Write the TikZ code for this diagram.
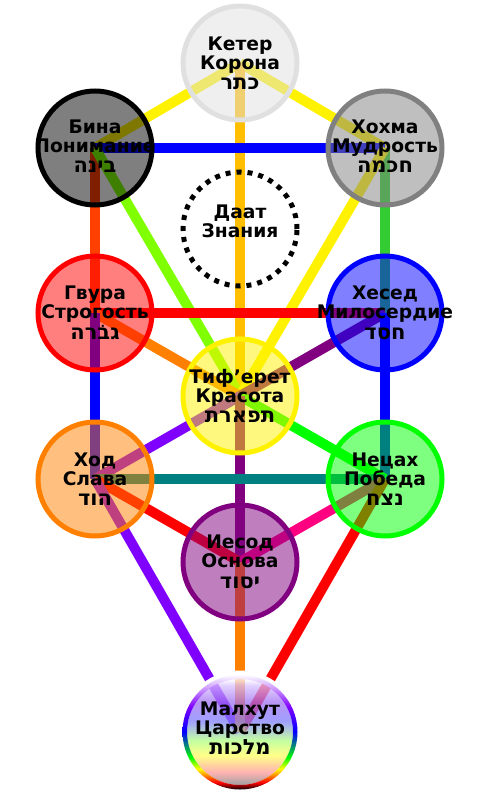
\documentclass[tikz,border=0pt]{standalone}
\usepackage{fontspec}
\setmainfont{DejaVu Sans}
\newfontfamily\hebfont[Script=Hebrew]{DejaVu Sans}
\TeXXeTstate=1
\usetikzlibrary{backgrounds}

\newcommand\hebname[1]{{\hebfont\fontsize{21bp}{19bp}\selectfont\beginR #1\endR}}

\definecolor{kgray}{HTML}{E0E0E0}
\definecolor{cgray}{HTML}{808080}
\definecolor{amber}{HTML}{FFBF00}
\definecolor{vermilion}{HTML}{FF4000}
\definecolor{chartreuse}{HTML}{80FF00}
\definecolor{leaf}{HTML}{33CC33}
\definecolor{orangeline}{HTML}{FF8000}
\definecolor{plum}{HTML}{800080}
\definecolor{violetline}{HTML}{8000FF}
\definecolor{neon}{HTML}{00FF00}
\definecolor{tealline}{HTML}{008080}
\definecolor{rose}{HTML}{FF0080}
\definecolor{malgray}{HTML}{808080}
\definecolor{malpink}{HTML}{FF9898}
\definecolor{malyellow}{HTML}{FFFF60}
\definecolor{malgreen}{HTML}{B0FF80}
\definecolor{malblue}{HTML}{8080FF}
\definecolor{malpurple}{HTML}{A070F0}
\definecolor{mallavender}{HTML}{D8C0FF}

\pgfdeclareverticalshading{malkhutring}{100bp}{color(0bp)=(black); color(25bp)=(black);
  color(28bp)=(red); color(31bp)=(orangeline); color(34bp)=(yellow); color(39bp)=(neon);
  color(50bp)=(blue); color(61bp)=(violetline); color(69bp)=(violetline!40);
  color(75bp)=(white); color(100bp)=(white)}
\pgfdeclareverticalshading{malkhutdisk}{100bp}{color(0bp)=(malgray); color(25bp)=(malgray);
  color(31bp)=(malpink); color(39bp)=(malyellow); color(46bp)=(malgreen);
  color(55bp)=(malblue); color(64bp)=(malpurple); color(72bp)=(mallavender);
  color(75bp)=(white); color(100bp)=(white)}

\begin{document}
\begin{tikzpicture}[x=1bp, y=-1bp,
    sefira/.style={circle, minimum size=114bp, inner sep=0pt, line width=5bp,
                   draw=#1, fill=#1, fill opacity=0.5},
    name text/.style={font=\bfseries\fontsize{18.7bp}{19bp}\selectfont, align=center},
    channel/.style={line width=10bp}]

  \useasboundingbox (0,0) rectangle (480,800);

  % the sefirot
  \node[sefira=kgray] (keter) at (240,63) {};
  \node[sefira=black] (binah) at (95,148) {};
  \node[sefira=cgray] (chokhmah) at (385,148) {};
  \node[circle, minimum size=114bp, draw, line width=5bp, dash pattern=on 5bp off 6bp] (daat) at (240,229) {};
  \node[sefira=red] (gevurah) at (95,313) {};
  \node[sefira=blue] (chesed) at (385,313) {};
  \node[sefira=yellow] (tiferet) at (240,396) {};
  \node[sefira=orangeline] (hod) at (95,479) {};
  \node[sefira=neon] (netzach) at (385,479) {};
  \node[sefira=plum] (yesod) at (240,562) {};
  \node[circle, minimum size=106bp, inner sep=0pt, shade, shading=malkhutdisk, fill opacity=0.75] (malkhut) at (240,732) {};
  \shade[shading=malkhutring, even odd rule] (malkhut.center) circle [radius=57.5bp]
        (malkhut.center) circle [radius=53bp];

  % names
  \node[name text] (keter-t) at (keter) {Кетер\\Корона\\[1.5bp]\hebname{כתר}};
  \node[name text, yshift=2bp] (binah-t) at (binah) {Бина\\Понимание\\[1.5bp]\hebname{בינה}};
  \node[name text, yshift=2bp] (chokhmah-t) at (chokhmah) {Хохма\\Мудрость\\[1.5bp]\hebname{חכמה}};
  \node[name text, yshift=8bp] (daat-t) at (daat) {Даат\\Знания};
  \node[name text] (gevurah-t) at (gevurah) {Гвура\\Строгость\\[1.5bp]\hebname{גבֹרה}};
  \node[name text] (chesed-t) at (chesed) {Хесед\\Милосердие\\[1.5bp]\hebname{חסד}};
  \node[name text] (tiferet-t) at (tiferet) {Тиф’ерет\\Красота\\[1.5bp]\hebname{תפארת}};
  \node[name text] (hod-t) at (hod) {Ход\\Слава\\[1.5bp]\hebname{הוד}};
  \node[name text] (netzach-t) at (netzach) {Нецах\\Победа\\[1.5bp]\hebname{נצח}};
  \node[name text] (yesod-t) at (yesod) {Иесод\\Основа\\[1.5bp]\hebname{יסוד}};
  \node[name text, yshift=4bp] (malkhut-t) at (malkhut) {Малхут\\Царство\\[1.5bp]\hebname{מלכות}};

  % the 22 paths
  \begin{scope}[on background layer]
    \draw[channel, yellow] (keter.center) -- (binah.center);
    \draw[channel, yellow] (keter.center) -- (chokhmah.center);
    \draw[channel, amber] (keter.center) -- (tiferet.center);
    \draw[channel, blue] (binah.center) -- (chokhmah.center);
    \draw[channel, vermilion] (binah.center) -- (gevurah.center);
    \draw[channel, chartreuse] (binah.center) -- (tiferet.center);
    \draw[channel, leaf] (chokhmah.center) -- (chesed.center);
    \draw[channel, yellow] (chokhmah.center) -- (tiferet.center);
    \draw[channel, red] (gevurah.center) -- (chesed.center);
    \draw[channel, orangeline] (gevurah.center) -- (tiferet.center);
    \draw[channel, blue] (gevurah.center) -- (hod.center);
    \draw[channel, plum] (chesed.center) -- (tiferet.center);
    \draw[channel, blue] (chesed.center) -- (netzach.center);
    \draw[channel, violetline] (tiferet.center) -- (hod.center);
    \draw[channel, neon] (tiferet.center) -- (netzach.center);
    \draw[channel, plum] (tiferet.center) -- (yesod.center);
    \draw[channel, tealline] (hod.center) -- (netzach.center);
    \draw[channel, red] (hod.center) -- (yesod.center);
    \draw[channel, violetline] (hod.center) -- (malkhut.center);
    \draw[channel, rose] (netzach.center) -- (yesod.center);
    \draw[channel, red] (netzach.center) -- (malkhut.center);
    \draw[channel, orangeline] (yesod.center) -- (malkhut.center);
    \draw[white, line width=5bp] (malkhut.center) circle [radius=59bp];
  \end{scope}
\end{tikzpicture}
\end{document}
